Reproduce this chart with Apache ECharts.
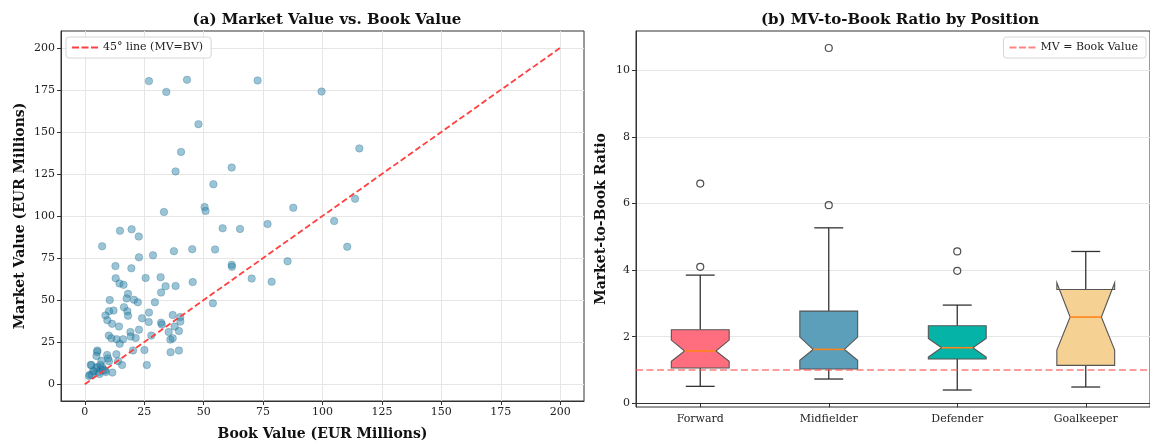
<!DOCTYPE html>
<html>
<head>
<meta charset="utf-8">
<script src="https://cdn.jsdelivr.net/npm/echarts@6/dist/echarts.min.js"></script>
<style>html,body{margin:0;padding:0;background:#fff}#c{width:1150px;height:446px}</style>
</head>
<body>
<div id="c"></div>
<script>
// ---- Panel (a) data: Book value vs Market value (EUR millions)
const bookValue = [27.0,34.3,43.0,72.7,99.6,47.8,40.5,38.2,61.8,54.1,33.3,50.4,50.8,87.7,76.9,115.5,113.7,104.9,110.4,
  14.8,19.7,22.7,58.0,65.3,7.3,37.5,45.2,54.8,85.3,22.8,28.7,61.8,61.9,12.9,19.6,13.0,25.6,31.9,70.2,78.6,
  14.6,16.3,34.0,38.2,45.4,32.1,18.2,17.6,20.7,22.3,10.5,29.5,53.9,16.5,12.1,10.2,17.9,8.7,18.2,27.0,
  9.5,11.5,24.1,26.9,14.4,37.0,40.2,40.2,32.1,32.4,37.8,22.8,19.2,19.3,21.4,39.6,35.3,28.0,36.0,37.0,
  10.1,11.2,13.4,16.1,14.7,20.3,25.1,36.1,39.6,5.3,5.2,9.4,13.3,9.8,7.0,14.0,15.7,26.1,2.8,5.3,
  7.4,8.5,11.6,2.1,3.9,5.9,6.7,3.5,4.9,6.6,8.8,4.9,10.2,2.5,1.8,3.0,6.2,7.8];
const marketValue = [180.2,173.8,181.0,180.6,174.0,154.6,138.1,126.5,128.8,118.9,102.4,105.3,103.0,104.9,95.2,140.2,110.2,97.0,81.7,
  91.2,92.1,87.8,92.7,92.3,82.0,79.1,80.3,80.1,73.1,75.4,76.6,71.0,69.8,70.2,68.9,63.0,63.2,63.6,62.8,60.9,
  59.9,59.1,58.2,58.4,60.7,54.5,53.7,51.0,50.2,48.7,50.0,48.7,48.1,45.8,43.8,43.4,43.4,40.9,40.7,42.6,
  38.0,35.9,39.2,37.0,34.3,41.1,39.9,37.2,36.6,35.5,34.3,32.4,31.0,28.3,27.5,31.6,31.0,28.9,26.5,27.3,
  28.9,27.3,26.7,26.7,24.0,20.1,20.3,19.0,20.0,20.0,19.2,17.4,17.8,15.3,13.9,13.7,11.4,11.4,11.4,10.2,
  10.1,8.1,6.9,5.6,7.5,7.2,9.1,7.9,9.8,11.4,7.2,16.8,13.7,11.4,4.8,5.5,6.0,8.6];
const diagonal = [[0, 0], [200, 200]];
const tickValuesA = [0, 25, 50, 75, 100, 125, 150, 175, 200];

// ---- Panel (b) data: MV-to-Book ratio by position (notched box stats)
const positions = ['Forward', 'Midfielder', 'Defender', 'Goalkeeper'];
const whiskerLow  = [0.51, 0.73, 0.40, 0.49];
const quartile1   = [1.06, 1.03, 1.33, 1.14];
const notchLow    = [1.26, 1.29, 1.39, 1.60];
const medians     = [1.57, 1.62, 1.67, 2.59];
const notchHigh   = [1.90, 1.99, 1.95, 3.62];
const quartile3   = [2.21, 2.77, 2.33, 3.42];
const whiskerHigh = [3.85, 5.27, 2.95, 4.56];
const outlierPos  = [0, 0, 1, 1, 2, 2];
const outlierVal  = [6.60, 4.10, 10.67, 5.95, 4.56, 3.98];
const tickValuesB = [0, 2, 4, 6, 8, 10];
const boxColors = ['#ff6e7f', '#5b9fba', '#06b4a7', '#f5d193'];

const FONT = 'DejaVu Serif';
const scatterData = bookValue.map((b, i) => [b, marketValue[i]]);
const boxData = positions.map((p, i) => [i, whiskerLow[i], quartile1[i], notchLow[i], medians[i], notchHigh[i], quartile3[i], whiskerHigh[i]]);
const outlierData = outlierPos.map((p, i) => [p, outlierVal[i]]);

const chart = echarts.init(document.getElementById('c'), null, {renderer: 'canvas'});

const tickLabel = {fontFamily: FONT, fontSize: 11, color: '#222'};
const nameStyle = {fontFamily: FONT, fontSize: 14, fontWeight: 'bold', color: '#111'};
const dashIcon = 'path://M0,0H7V2H0Z M9.5,0H16.5V2H9.5Z M19,0H26V2H19Z';

function renderBox(params, api) {
  const i = api.value(0);
  const v = k => api.value(k);
  const y = val => api.coord([i, val])[1];
  const cx = api.coord([i, v(4)])[0];
  const band = api.size([1, 0])[0];
  const bw = band * 0.45;
  const L = cx - bw / 2, R = cx + bw / 2;
  const NL = cx - bw * 0.27, NR = cx + bw * 0.27;
  const capL = cx - bw / 4, capR = cx + bw / 4;
  const yLw = y(v(1)), yQ1 = y(v(2)), yNlo = y(v(3)), yMed = y(v(4)), yNhi = y(v(5)), yQ3 = y(v(6)), yHw = y(v(7));
  const lineStyle = {stroke: '#333', lineWidth: 1.3};
  return {
    type: 'group',
    children: [
      {type: 'line', shape: {x1: cx, y1: yQ1, x2: cx, y2: yLw}, style: lineStyle},
      {type: 'line', shape: {x1: cx, y1: yQ3, x2: cx, y2: yHw}, style: lineStyle},
      {type: 'line', shape: {x1: capL, y1: yLw, x2: capR, y2: yLw}, style: lineStyle},
      {type: 'line', shape: {x1: capL, y1: yHw, x2: capR, y2: yHw}, style: lineStyle},
      {type: 'polygon', shape: {points: [[L, yQ1], [R, yQ1], [R, yNlo], [NR, yMed], [R, yNhi], [R, yQ3], [L, yQ3], [L, yNhi], [NL, yMed], [L, yNlo]]},
        style: {fill: boxColors[i], stroke: '#555', lineWidth: 1.1}},
      {type: 'line', shape: {x1: NL, y1: yMed, x2: NR, y2: yMed}, style: {stroke: '#ff8418', lineWidth: 1.6}}
    ]
  };
}

const option = {
  animation: false,
  backgroundColor: '#fff',
  title: [
    {text: '(a) Market Value vs. Book Value', left: 322, top: 8, textAlign: 'center',
      textStyle: {fontFamily: FONT, fontSize: 15, fontWeight: 'bold', color: '#111'}},
    {text: '(b) MV-to-Book Ratio by Position', left: 895, top: 8, textAlign: 'center',
      textStyle: {fontFamily: FONT, fontSize: 15, fontWeight: 'bold', color: '#111'}}
  ],
  legend: [
    {data: [{name: '45° line (MV=BV)', icon: dashIcon, itemStyle: {color: '#ff4040'}}], left: 66, top: 37, orient: 'vertical',
      itemWidth: 26, itemHeight: 2, itemGap: 6,
      backgroundColor: 'rgba(255,255,255,0.85)', borderColor: '#d6d6d6', borderWidth: 1, borderRadius: 3,
      padding: [5, 8, 5, 6], textStyle: {fontFamily: FONT, fontSize: 11, color: '#222'}},
    {data: [{name: 'MV = Book Value', icon: dashIcon, itemStyle: {color: 'rgba(255,80,80,0.7)'}}], right: 4, top: 37, orient: 'vertical',
      itemWidth: 26, itemHeight: 2, itemGap: 6,
      backgroundColor: 'rgba(255,255,255,0.85)', borderColor: '#d6d6d6', borderWidth: 1, borderRadius: 3,
      padding: [5, 8, 5, 6], textStyle: {fontFamily: FONT, fontSize: 11, color: '#222'}}
  ],
  grid: [
    {left: 61, right: 566, top: 31, bottom: 39, show: true, borderColor: '#333', borderWidth: 1, backgroundColor: 'transparent'},
    {left: 636, right: -6, top: 31, bottom: 39, show: true, borderColor: '#333', borderWidth: 1, backgroundColor: 'transparent'}
  ],
  xAxis: [
    {type: 'value', gridIndex: 0, min: -10, max: 210,
      name: 'Book Value (EUR Millions)', nameLocation: 'middle', nameGap: 26, nameTextStyle: nameStyle,
      axisLine: {show: true, onZero: false, lineStyle: {color: '#333'}},
      axisTick: {show: true, length: 4, customValues: tickValuesA, lineStyle: {color: '#333'}},
      axisLabel: Object.assign({customValues: tickValuesA, margin: 6}, tickLabel),
      splitLine: {show: true, lineStyle: {color: '#e6e6e6'}}},
    {type: 'category', gridIndex: 1, data: positions, boundaryGap: true,
      axisLine: {show: true, lineStyle: {color: '#333'}},
      axisTick: {show: true, alignWithLabel: true, length: 4, lineStyle: {color: '#333'}},
      axisLabel: Object.assign({margin: 7}, tickLabel),
      splitLine: {show: false}}
  ],
  yAxis: [
    {type: 'value', gridIndex: 0, min: -10, max: 210,
      name: 'Market Value (EUR Millions)', nameLocation: 'middle', nameGap: 34, nameRotate: 90, nameTextStyle: nameStyle,
      axisLine: {show: true, onZero: false, lineStyle: {color: '#333'}},
      axisTick: {show: true, length: 4, customValues: tickValuesA, lineStyle: {color: '#333'}},
      axisLabel: Object.assign({customValues: tickValuesA, margin: 6}, tickLabel),
      splitLine: {show: true, lineStyle: {color: '#e6e6e6'}}},
    {type: 'value', gridIndex: 1, min: -0.11, max: 11.18,
      name: 'Market-to-Book Ratio', nameLocation: 'middle', nameGap: 28, nameRotate: 90, nameTextStyle: nameStyle,
      axisLine: {show: true, onZero: false, lineStyle: {color: '#333'}},
      axisTick: {show: true, length: 4, customValues: tickValuesB, lineStyle: {color: '#333'}},
      axisLabel: Object.assign({customValues: tickValuesB, margin: 6}, tickLabel),
      splitLine: {show: true, lineStyle: {color: '#e6e6e6'}}}
  ],
  series: [
    {name: 'scatter', type: 'scatter', xAxisIndex: 0, yAxisIndex: 0, data: scatterData, symbolSize: 7.5,
      itemStyle: {color: 'rgba(46,134,171,0.6)', borderColor: 'rgba(20,90,120,0.55)', borderWidth: 0.6}, z: 3},
    {name: '45° line (MV=BV)', type: 'line', xAxisIndex: 0, yAxisIndex: 0, data: diagonal, symbol: 'none',
      lineStyle: {color: '#ff4040', width: 1.8, type: [6, 3]}, itemStyle: {color: '#ff4040'}, z: 4},
    {name: 'boxes', type: 'custom', xAxisIndex: 1, yAxisIndex: 1, data: boxData, renderItem: renderBox,
      encode: {x: 0, y: [1, 2, 3, 4, 5, 6, 7]}, z: 3},
    {name: 'outliers', type: 'scatter', xAxisIndex: 1, yAxisIndex: 1, data: outlierData, symbol: 'circle', symbolSize: 7,
      itemStyle: {color: 'rgba(255,255,255,0)', borderColor: '#222', borderWidth: 1.2}, z: 4},
    {name: 'MV = Book Value', type: 'line', xAxisIndex: 1, yAxisIndex: 1, data: [], symbol: 'none',
      lineStyle: {color: 'rgba(255,80,80,0.75)', width: 1.6, type: [7, 3.5]}, itemStyle: {color: 'rgba(255,80,80,0.75)'},
      markLine: {silent: true, symbol: 'none', label: {show: false},
        lineStyle: {color: 'rgba(255,80,80,0.75)', width: 1.6, type: [7, 3.5]}, data: [{yAxis: 1}]}, z: 5}
  ]
};
chart.setOption(option);
</script>
</body>
</html>
